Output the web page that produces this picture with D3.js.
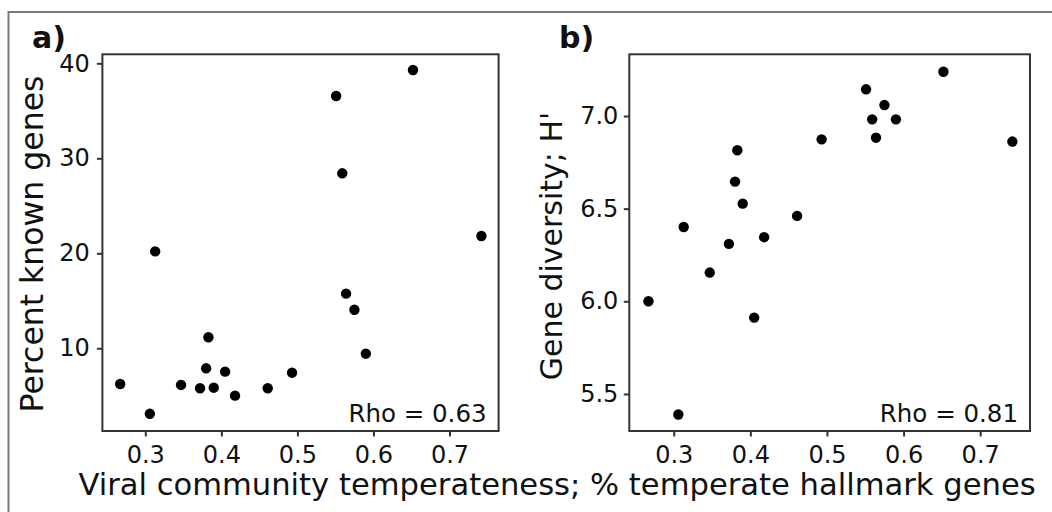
<!DOCTYPE html>
<html>
<head>
<meta charset="utf-8">
<script src="https://cdn.jsdelivr.net/npm/d3@7"></script>
<style>
  body { margin: 0; background: #fff; }
  text { font-family: "DejaVu Sans", sans-serif; fill: #111; }
</style>
</head>
<body>
<div id="chart"></div>
<script>
// temperateness (fraction of temperate hallmark genes), one value per sample
var temperateness = [0.267, 0.306, 0.313, 0.347, 0.372, 0.380, 0.383, 0.390, 0.405, 0.418,
                     0.461, 0.493, 0.551, 0.559, 0.564, 0.575, 0.590, 0.652, 0.742];
// panel a) percent known genes
var knownGenes = [6.24, 3.1, 20.2, 6.14, 5.79, 7.89, 11.16, 5.85, 7.54, 5.01,
                  5.79, 7.43, 36.56, 28.42, 15.75, 14.06, 9.43, 39.3, 21.82];
// panel b) gene diversity H'
var geneDiversity = [6.0, 5.389, 6.401, 6.155, 6.31, 6.646, 6.815, 6.527, 5.912, 6.346,
                     6.461, 6.874, 7.144, 6.982, 6.883, 7.059, 6.982, 7.239, 6.862];

var xTicks = [0.3, 0.4, 0.5, 0.6, 0.7];
var yTicksA = [10, 20, 30, 40];
var yTicksB = [5.5, 6.0, 6.5, 7.0];

var width = 1052, height = 512;

var svg = d3.select("#chart").append("svg")
    .attr("width", width)
    .attr("height", height);

svg.append("rect")
    .attr("width", width)
    .attr("height", height)
    .attr("fill", "#fff");

// grey outer frame (runs off the right and bottom edge)
svg.append("rect")
    .attr("x", 8.5).attr("y", 12)
    .attr("width", 1200).attr("height", 700)
    .attr("fill", "none")
    .attr("stroke", "#7c7c7c")
    .attr("stroke-width", 2);

var plotTop = 54.3, plotBottom = 431;

function panel(opts) {
    var x = d3.scaleLinear().domain(opts.xDomain).range([opts.left, opts.right]);
    var y = d3.scaleLinear().domain(opts.yDomain).range([plotBottom, plotTop]);
    var g = svg.append("g");

    var xAxis = g.append("g")
        .attr("transform", "translate(0," + plotBottom + ")")
        .call(d3.axisBottom(x).tickValues(xTicks).tickFormat(d3.format(".1f"))
            .tickSize(5.5).tickPadding(9.5));
    var yAxis = g.append("g")
        .attr("transform", "translate(" + opts.left + ",0)")
        .call(d3.axisLeft(y).tickValues(opts.yTicks).tickFormat(opts.yFormat)
            .tickSize(5.5).tickPadding(opts.yPad));

    [xAxis, yAxis].forEach(function (ax) {
        ax.attr("font-size", null).attr("font-family", null);
        ax.select(".domain").remove();
        ax.selectAll("line").attr("stroke", "#333").attr("stroke-width", 2);
        ax.selectAll("text")
            .attr("fill", "#111")
            .style("font-family", "DejaVu Sans")
            .style("font-size", "24px");
    });

    g.append("rect")
        .attr("x", opts.left).attr("y", plotTop)
        .attr("width", opts.right - opts.left)
        .attr("height", plotBottom - plotTop)
        .attr("fill", "none")
        .attr("stroke", "#333")
        .attr("stroke-width", 2);

    g.selectAll("circle")
        .data(opts.values)
        .enter().append("circle")
        .attr("cx", function (d, i) { return x(temperateness[i]); })
        .attr("cy", function (d) { return y(d); })
        .attr("r", 5.2)
        .attr("fill", "#000");

    g.append("text")
        .attr("x", opts.right - 12).attr("y", 422)
        .attr("text-anchor", "end")
        .style("font-size", "24.5px")
        .text(opts.rho);

    g.append("text")
        .attr("transform", "translate(" + opts.yTitleX + "," + opts.yTitleY + ") rotate(-90)")
        .attr("text-anchor", "middle")
        .style("font-size", opts.yTitleSize)
        .text(opts.yTitle);

    g.append("text")
        .attr("x", opts.tagX).attr("y", 48)
        .style("font-size", "30px")
        .style("font-weight", "bold")
        .text(opts.tag);
}

panel({
    left: 102.4, right: 498.6,
    xDomain: [0.2436, 0.7646],
    yDomain: [1.29, 40.95],
    yTicks: yTicksA, yFormat: d3.format("d"), yPad: 7,
    values: knownGenes,
    rho: "Rho = 0.63",
    yTitle: "Percent known genes", yTitleX: 43, yTitleY: 244, yTitleSize: "31.5px",
    tag: "a)", tagX: 32
});

panel({
    left: 629.3, right: 1030,
    xDomain: [0.242, 0.765],
    yDomain: [5.3, 7.333],
    yTicks: yTicksB, yFormat: d3.format(".1f"), yPad: 5.5,
    values: geneDiversity,
    rho: "Rho = 0.81",
    yTitle: "Gene diversity; H'", yTitleX: 562, yTitleY: 246, yTitleSize: "30px",
    tag: "b)", tagX: 559
});

svg.append("text")
    .attr("x", 78.4).attr("y", 495)
    .style("font-size", "30.6px")
    .text("Viral community temperateness; % temperate hallmark genes");
</script>
</body>
</html>
